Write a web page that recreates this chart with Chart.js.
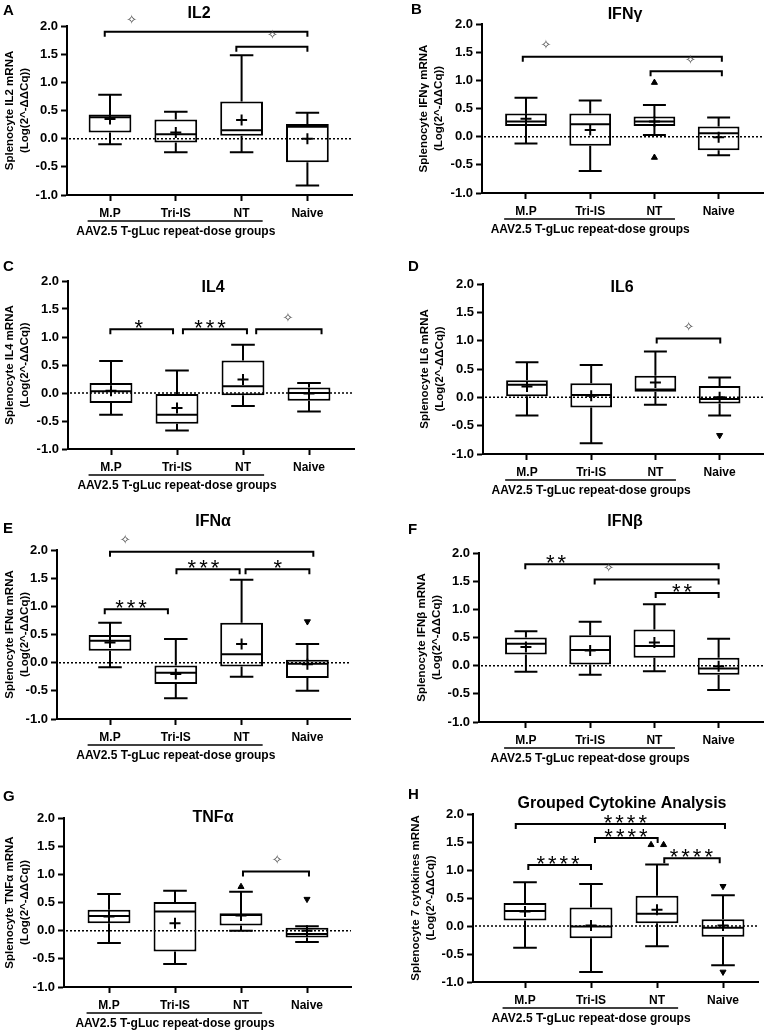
<!DOCTYPE html>
<html>
<head>
<meta charset="utf-8">
<script src="https://cdn.jsdelivr.net/npm/chart.js@4.4.0/dist/chart.umd.min.js"></script>
<style>
  html, body { margin: 0; padding: 0; background: #fff; }
  #fig { position: relative; width: 771px; height: 1031px; overflow: hidden; }
  #fig canvas { position: absolute; }
</style>
</head>
<body>
<div id="fig"></div>
<script>
// categories and shared labels
const groups = ['M.P', 'Tri-IS', 'NT', 'Naive'];
const groupLabel = 'AAV2.5 T-gLuc repeat-dose groups';
const yTicks = [-1, -0.5, 0, 0.5, 1, 1.5, 2];
const yUnit = '(Log(2^-ΔΔCq))';

// per group: [min, q1, median, q3, max, mean]
const il2Box  = [[-0.10, 0.11, 0.38, 0.43, 0.78, 0.35], [-0.24, -0.07, 0.08, 0.34, 0.48, 0.11], [-0.24, 0.05, 0.15, 0.66, 1.48, 0.33], [-0.83, -0.42, 0.21, 0.26, 0.46, 0.00]];
const ifngBox = [[-0.12, 0.19, 0.27, 0.41, 0.69, 0.32], [-0.61, -0.16, 0.22, 0.41, 0.64, 0.12], [0.03, 0.19, 0.27, 0.36, 0.56, 0.27], [-0.33, -0.24, 0.06, 0.18, 0.34, -0.01]];
const il4Box  = [[-0.39, -0.18, 0.03, 0.18, 0.57, 0.04], [-0.67, -0.55, -0.39, -0.02, 0.40, -0.27], [-0.23, -0.04, 0.12, 0.58, 0.86, 0.24], [-0.33, -0.14, 0.00, 0.10, 0.18, -0.01]];
const il6Box  = [[-0.32, 0.02, 0.22, 0.30, 0.62, 0.19], [-0.81, -0.18, 0.04, 0.25, 0.57, 0.03], [-0.13, 0.10, 0.14, 0.38, 0.81, 0.26], [-0.32, -0.11, -0.03, 0.20, 0.35, 0.00]];
const ifnaBox = [[-0.08, 0.21, 0.39, 0.49, 0.71, 0.36], [-0.63, -0.38, -0.18, -0.05, 0.42, -0.20], [-0.25, -0.07, 0.15, 0.71, 1.47, 0.33], [-0.50, -0.27, -0.02, 0.05, 0.33, -0.03]];
const ifnbBox = [[-0.11, 0.20, 0.39, 0.50, 0.61, 0.33], [-0.16, 0.02, 0.28, 0.54, 0.78, 0.27], [-0.10, 0.14, 0.35, 0.64, 1.09, 0.41], [-0.43, -0.16, -0.05, 0.14, 0.48, -0.01]];
const tnfaBox = [[-0.22, 0.13, 0.26, 0.37, 0.65, 0.25], [-0.59, -0.37, 0.34, 0.51, 0.71, 0.13], [0.00, 0.09, 0.28, 0.31, 0.69, 0.27], [-0.20, -0.12, -0.06, 0.05, 0.08, 0.00]];
const allBox  = [[-0.39, 0.10, 0.27, 0.41, 0.78, 0.26], [-0.82, -0.22, -0.01, 0.33, 0.75, 0.01], [-0.36, 0.05, 0.22, 0.54, 1.10, 0.29], [-0.70, -0.19, -0.03, 0.12, 0.55, 0.01]];

// outliers: [group position, value, triangle direction]
const ifngOut = [[3, 0.96, 'up'], [3, -0.37, 'up']];
const il6Out  = [[4, -0.67, 'down']];
const ifnaOut = [[4, 0.73, 'down']];
const tnfaOut = [[3, 0.78, 'up'], [4, 0.56, 'down']];
const allOut  = [[2.91, 1.45, 'up'], [3.10, 1.45, 'up'], [4, 0.71, 'down'], [4, -0.82, 'down']];

// significance brackets: [from, to, level, label, label position]
const il2Sig  = [[0.92, 4.00, 1.90, '✧', 1.33], [2.92, 4.00, 1.63, '✧', 3.47]];
const ifngSig = [[0.95, 4.05, 1.42, '✧', 1.31], [2.94, 4.05, 1.16, '✧', 3.56]];
const il4Sig  = [[0.99, 1.94, 1.14, '*', 1.42], [2.09, 3.06, 1.14, '***', 2.50], [3.20, 4.19, 1.14, '✧', 3.68]];
const il6Sig  = [[3.02, 4.01, 1.04, '✧', 3.52]];
const ifnaSig = [[1.00, 4.09, 1.97, '✧', 1.23], [2.01, 2.97, 1.66, '***', 2.42], [3.06, 4.03, 1.66, '*', 3.55], [0.92, 1.88, 0.95, '***', 1.32]];
const ifnbSig = [[0.99, 4.00, 1.80, '**', 1.47], [2.07, 4.00, 1.53, '✧', 2.29], [3.02, 4.00, 1.29, '**', 3.43]];
const tnfaSig = [[3.03, 4.03, 1.05, '✧', 3.55]];
const allSig  = [[0.86, 4.03, 1.82, '****', 2.52], [2.06, 3.01, 1.57, '****', 2.53], [1.05, 2.00, 1.09, '****', 1.50], [3.11, 3.95, 1.21, '****', 3.52]];

const FONT = '"Liberation Sans", Arial, sans-serif';
Chart.defaults.font.family = FONT;
Chart.defaults.color = '#000';

// panel placement (page px) and where the axes sit inside each canvas
const panels = [
  { letter: 'A', title: 'IL2', yName: 'Splenocyte IL2 mRNA', box: il2Box, out: [], sig: il2Sig,
    left: 0, top: 0, w: 385, h: 255, axisL: 67, axisR: 352, yTop: 26, yBot: 195, cat1: 110, step: 65.8, yTitleX: 10, tx: 199, ty: 14, lx: 3, ly: 11 },
  { letter: 'B', title: 'IFNγ', yName: 'Splenocyte IFNγ mRNA', box: ifngBox, out: ifngOut, sig: ifngSig,
    left: 385, top: 0, w: 386, h: 255, axisL: 97, axisR: 385, yTop: 24, yBot: 193, cat1: 142, step: 65.7, yTitleX: 39, tx: 240, ty: 15, lx: 26, ly: 10 },
  { letter: 'C', title: 'IL4', yName: 'Splenocyte IL4 mRNA', box: il4Box, out: [], sig: il4Sig,
    left: 0, top: 255, w: 385, h: 255, axisL: 68, axisR: 354, yTop: 26, yBot: 194, cat1: 111, step: 66, yTitleX: 10, tx: 213, ty: 33, lx: 3, ly: 12 },
  { letter: 'D', title: 'IL6', yName: 'Splenocyte IL6 mRNA', box: il6Box, out: il6Out, sig: il6Sig,
    left: 385, top: 255, w: 386, h: 255, axisL: 98, axisR: 385, yTop: 29, yBot: 199, cat1: 143, step: 65.7, yTitleX: 40, tx: 237, ty: 33, lx: 23, ly: 12 },
  { letter: 'E', title: 'IFNα', yName: 'Splenocyte IFNα mRNA', box: ifnaBox, out: ifnaOut, sig: ifnaSig,
    left: 0, top: 510, w: 385, h: 260, axisL: 57, axisR: 350, yTop: 40, yBot: 209, cat1: 110, step: 65.8, yTitleX: 10, tx: 213, ty: 12, lx: 3, ly: 19 },
  { letter: 'F', title: 'IFNβ', yName: 'Splenocyte IFNβ mRNA', box: ifnbBox, out: [], sig: ifnbSig,
    left: 385, top: 510, w: 386, h: 260, axisL: 94, axisR: 385, yTop: 43, yBot: 212, cat1: 142, step: 65.7, yTitleX: 37, tx: 240, ty: 12, lx: 23, ly: 20 },
  { letter: 'G', title: 'TNFα', yName: 'Splenocyte TNFα mRNA', box: tnfaBox, out: tnfaOut, sig: tnfaSig,
    left: 0, top: 770, w: 385, h: 261, axisL: 64, axisR: 351, yTop: 48, yBot: 217, cat1: 109, step: 66, yTitleX: 10, tx: 213, ty: 48, lx: 3, ly: 27 },
  { letter: 'H', title: 'Grouped Cytokine Analysis', yName: 'Splenocyte 7 cytokines mRNA', box: allBox, out: allOut, sig: allSig,
    left: 385, top: 770, w: 386, h: 261, axisL: 88, axisR: 373, yTop: 44, yBot: 212, cat1: 140, step: 66, yTitleX: 31, tx: 237, ty: 34, lx: 23, ly: 25 }
];

function extras(p) {
  return {
    id: 'extras',
    // whiskers + medians right after the boxes
    afterDatasetDraw(chart, args) {
      if (args.index !== 0) return;
      const ctx = chart.ctx, y = chart.scales.y;
      const meta = chart.getDatasetMeta(0);
      ctx.save();
      ctx.strokeStyle = '#000';
      ctx.lineWidth = 2;
      p.box.forEach((b, i) => {
        const bar = meta.data[i];
        const hw = bar.width / 2, cap = hw * 0.55;
        const [mn, q1, md, q3, mx] = b.map(v => y.getPixelForValue(v));
        ctx.beginPath();
        ctx.moveTo(bar.x, q3); ctx.lineTo(bar.x, mx);
        ctx.moveTo(bar.x - cap, mx); ctx.lineTo(bar.x + cap, mx);
        ctx.moveTo(bar.x, q1); ctx.lineTo(bar.x, mn);
        ctx.moveTo(bar.x - cap, mn); ctx.lineTo(bar.x + cap, mn);
        ctx.moveTo(bar.x - hw + 1, md); ctx.lineTo(bar.x + hw - 1, md);
        ctx.stroke();
      });
      ctx.restore();
    },
    afterDatasetsDraw(chart) {
      const ctx = chart.ctx, area = chart.chartArea;
      const y0 = chart.scales.y.getPixelForValue(0);
      ctx.save();
      ctx.strokeStyle = '#000';
      ctx.lineWidth = 1.5;
      ctx.setLineDash([2, 2]);
      ctx.beginPath();
      ctx.moveTo(area.left + 2, y0);
      ctx.lineTo(area.right, y0);
      ctx.stroke();
      ctx.restore();
    },
    afterDraw(chart) {
      const ctx = chart.ctx, x = chart.scales.x, y = chart.scales.y, area = chart.chartArea;
      ctx.save();
      ctx.strokeStyle = '#000';
      ctx.fillStyle = '#000';
      ctx.lineWidth = 2;
      // brackets
      p.sig.forEach(s => {
        const x1 = x.getPixelForValue(s[0]), x2 = x.getPixelForValue(s[1]);
        const yy = y.getPixelForValue(s[2]);
        ctx.beginPath();
        ctx.moveTo(x1, yy + 5); ctx.lineTo(x1, yy); ctx.lineTo(x2, yy); ctx.lineTo(x2, yy + 5);
        ctx.stroke();
        const lx = x.getPixelForValue(s[4]);
        ctx.textAlign = 'center';
        if (s[3] === '✧') {
          ctx.font = '13px "DejaVu Sans"';
          ctx.fillStyle = '#4a4a4a';
          ctx.textBaseline = 'middle';
          ctx.fillText(s[3], lx, yy - 11);
        } else {
          ctx.font = '22px ' + FONT;
          ctx.letterSpacing = '3px';
          ctx.fillStyle = '#000';
          ctx.textBaseline = 'alphabetic';
          ctx.fillText(s[3], lx + 1.5, yy + 6);
          ctx.letterSpacing = '0px';
        }
      });
      // group underline + label
      ctx.fillStyle = '#000';
      ctx.lineWidth = 1.5;
      ctx.beginPath();
      ctx.moveTo(x.getPixelForValue(0.66), area.bottom + 26);
      ctx.lineTo(x.getPixelForValue(3.32), area.bottom + 26);
      ctx.stroke();
      ctx.font = 'bold 12px ' + FONT;
      ctx.textAlign = 'center';
      ctx.textBaseline = 'middle';
      ctx.fillText(groupLabel, x.getPixelForValue(2), area.bottom + 37);
      // panel title and letter
      ctx.font = 'bold 16px ' + FONT;
      ctx.fillText(p.title, p.tx, p.ty);
      ctx.font = 'bold 15px ' + FONT;
      ctx.textAlign = 'left';
      ctx.fillText(p.letter, p.lx, p.ly);
      ctx.restore();
    }
  };
}

panels.forEach(p => {
  const cv = document.createElement('canvas');
  cv.width = p.w; cv.height = p.h;
  cv.style.left = p.left + 'px'; cv.style.top = p.top + 'px';
  cv.style.width = p.w + 'px'; cv.style.height = p.h + 'px';
  document.getElementById('fig').appendChild(cv);

  const padL = p.yTitleX - 7.5;
  const xMin = 1 - (p.cat1 - p.axisL) / p.step;
  const xMax = 1 + (p.axisR - p.cat1) / p.step;

  new Chart(cv.getContext('2d'), {
    type: 'bar',
    data: {
      datasets: [{
        type: 'bar',
        data: p.box.map((b, i) => ({ x: i + 1, y: [b[1], b[3]] })),
        backgroundColor: '#fff',
        borderColor: '#000',
        borderWidth: 2,
        borderSkipped: false,
        barPercentage: 0.65,
        categoryPercentage: 1,
        order: 3
      }, {
        type: 'scatter',
        data: p.out.map(o => ({ x: o[0], y: o[1] })),
        pointStyle: 'triangle',
        rotation: c => (p.out[c.dataIndex] && p.out[c.dataIndex][2] === 'down') ? 180 : 0,
        radius: 3.5,
        backgroundColor: '#000',
        borderColor: '#000',
        borderWidth: 1,
        order: 2
      }, {
        type: 'scatter',
        data: p.box.map((b, i) => ({ x: i + 1, y: b[5] })),
        pointStyle: 'cross',
        radius: 5.5,
        borderColor: '#000',
        borderWidth: 2,
        order: 1
      }]
    },
    options: {
      responsive: false,
      animation: false,
      devicePixelRatio: 1,
      events: [],
      layout: { padding: { left: padL, top: p.yTop, right: p.w - p.axisR, bottom: 0 } },
      plugins: { legend: { display: false }, tooltip: { enabled: false } },
      scales: {
        x: {
          type: 'linear',
          min: xMin,
          max: xMax,
          offset: false,
          afterBuildTicks: s => { s.ticks = groups.map((g, i) => ({ value: i + 1 })); },
          afterFit: s => { s.height = p.h - p.yBot; },
          ticks: {
            callback: v => groups[Math.round(v) - 1],
            font: { size: 12, weight: 'bold' },
            color: '#000',
            padding: 5,
            maxRotation: 0,
            autoSkip: false
          },
          grid: { drawOnChartArea: false, offset: false, tickLength: 6, tickWidth: 2, tickColor: '#000' },
          border: { color: '#000', width: 2 }
        },
        y: {
          type: 'linear',
          min: -1,
          max: 2,
          afterBuildTicks: s => { s.ticks = yTicks.map(v => ({ value: v })); },
          afterFit: s => { s.width = p.axisL - padL; },
          ticks: {
            callback: v => v.toFixed(1),
            font: { size: 13, weight: 'bold' },
            color: '#000',
            padding: 3
          },
          grid: { drawOnChartArea: false, tickLength: 6, tickWidth: 2, tickColor: '#000' },
          border: { color: '#000', width: 2 },
          title: {
            display: true,
            text: [p.yName, yUnit],
            font: { size: 11.5, weight: 'bold', lineHeight: 1.3 },
            color: '#000',
            padding: 0
          }
        }
      }
    },
    plugins: [extras(p)]
  });
});
</script>
</body>
</html>
